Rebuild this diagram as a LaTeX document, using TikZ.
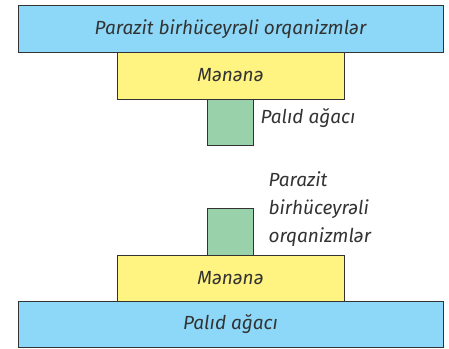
\documentclass[tikz,border=0pt]{standalone}
\usepackage{fontspec}
\setmainfont{Fira Sans}
\definecolor{skyblue}{HTML}{8DD8F8}
\definecolor{lemon}{HTML}{FFF482}
\definecolor{mint}{HTML}{99D2AA}
\definecolor{ink}{HTML}{333333}

\begin{document}
\begin{tikzpicture}[x=1pt,y=-1pt]
		\tikzstyle{every node}=[font=\fontsize{19}{28}\selectfont\itshape,text=ink]
		\tikzstyle{level}=[draw=ink,line width=0.9pt,rectangle,inner sep=0pt]

		\useasboundingbox (0,0) rectangle (449,348);

		% host on top, parasite below
		\node (hostA) at (230.5,29) [level,fill=skyblue,minimum width=425pt,minimum height=47pt] {Parazit birhüceyrəli orqanizmlər};
		\node (cattleA) at (230.5,75.5) [level,fill=lemon,minimum width=227pt,minimum height=47pt] {Mənənə};
		\node (treeA) at (230,122) [level,fill=mint,minimum width=46pt,minimum height=46pt] {};
		\node (treeAlabel) at (257,118) [anchor=west] {Palıd ağacı};

		% the upright pyramid
		\node (treeB) at (230.5,324) [level,fill=skyblue,minimum width=425pt,minimum height=46pt] {Palıd ağacı};
		\node (cattleB) at (230.5,278) [level,fill=lemon,minimum width=227pt,minimum height=46pt] {Mənənə};
		\node (hostB) at (230,231.5) [level,fill=mint,minimum width=46pt,minimum height=47pt] {};
		\node (hostBlabel) at (265,209) [anchor=west,align=left] {Parazit\\birhüceyrəli\\orqanizmlər};
	\end{tikzpicture}
\end{document}
